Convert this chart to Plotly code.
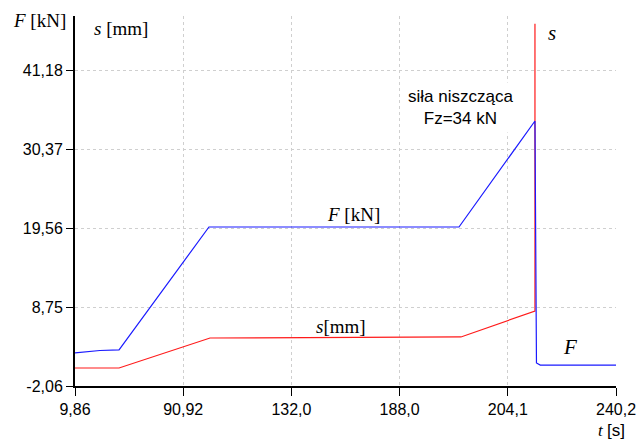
import plotly.graph_objects as go

# Tick labels (axis positions are evenly spaced in the original chart)
x_tick_labels = ["9,86", "90,92", "132,0", "188,0", "204,1", "240,2"]
y_tick_values = [-2.06, 8.75, 19.56, 30.37, 41.18]
y_tick_labels = ["-2,06", "8,75", "19,56", "30,37", "41,18"]

# Force F [kN] vs. axis position (tick index units)
force_x = [0.0, 0.23, 0.407, 1.238, 3.549, 4.251, 4.265, 4.30, 5.0]
force_y = [2.46, 2.80, 2.87, 19.70, 19.70, 34.2, 1.09, 0.81, 0.81]

# Displacement s [mm]
disp_x = [0.0, 0.407, 1.248, 3.567, 4.251, 4.251]
disp_y = [0.40, 0.40, 4.51, 4.65, 8.2, 47.5]

fig = go.Figure()
fig.add_trace(go.Scatter(x=disp_x, y=disp_y, mode="lines",
                         line=dict(color="#ff1a1a", width=1.2), showlegend=False))
fig.add_trace(go.Scatter(x=force_x, y=force_y, mode="lines",
                         line=dict(color="#1a1aff", width=1.2), showlegend=False))

W, H = 637, 439
L, R, T, B = 75, 21, 16, 53
PL, PT, PW, PH = L, T, W - L - R, H - T - B

def px(x):
    return (x - PL) / PW

def py(y):
    return (PT + PH - y) / PH

serif = "Liberation Serif, Times New Roman, serif"
sans = "Liberation Sans, Arial, sans-serif"

anns = [
    dict(x=px(39), y=py(21), text="<i>F</i> [kN]", font=dict(family=serif, size=19, color="black")),
    dict(x=px(121), y=py(29), text="<i>s</i> [mm]", font=dict(family=serif, size=19, color="black")),
    dict(x=px(353), y=py(214), text="<i>F</i> [kN]", font=dict(family=serif, size=19, color="black")),
    dict(x=px(341), y=py(326), text="<i>s</i>[mm]", font=dict(family=serif, size=19, color="black")),
    dict(x=px(552), y=py(33), text="<i>s</i>", font=dict(family=serif, size=21, color="black")),
    dict(x=px(570), y=py(347), text="<i>F</i>", font=dict(family=serif, size=21, color="black")),
    dict(x=px(611), y=py(430),
         text="<i>t</i> <span style='font-family:Liberation Sans, Arial, sans-serif'>[s]</span>",
         font=dict(family=serif, size=17, color="black")),
    dict(x=px(460), y=py(107), text="siła niszcząca<br>Fz=34 kN",
         font=dict(family=sans, size=17, color="black"), bgcolor="white", borderpad=4),
]
for a in anns:
    a.update(xref="paper", yref="paper", showarrow=False, xanchor="center", yanchor="middle")

fig.update_layout(
    width=W, height=H,
    margin=dict(l=L, r=R, t=T, b=B, autoexpand=False),
    plot_bgcolor="white", paper_bgcolor="white",
    annotations=anns,
    xaxis=dict(
        range=[0, 5], tickmode="array", tickvals=list(range(len(x_tick_labels))),
        ticktext=x_tick_labels, ticks="outside", ticklen=8, tickcolor="black", tickwidth=1,
        showline=True, linecolor="black", linewidth=2, automargin=False,
        showgrid=True, gridcolor="#cfcfcf", griddash="dot", gridwidth=1,
        zeroline=False, tickfont=dict(family=sans, size=16, color="black"),
    ),
    yaxis=dict(
        range=[-2.06, 48.57], tickmode="array", tickvals=y_tick_values,
        ticktext=y_tick_labels, ticks="outside", ticklen=7, tickcolor="black", tickwidth=1,
        showline=True, linecolor="black", linewidth=2, automargin=False,
        showgrid=True, gridcolor="#cfcfcf", griddash="dot", gridwidth=1,
        zeroline=False, tickfont=dict(family=sans, size=16, color="black"),
    ),
)

# remove the default 8px page margin so the figure fills the window exactly
fig.write_html("out.html",
               config={"displayModeBar": False},
               post_script="document.body.style.margin='0';document.body.style.overflow='hidden';")
